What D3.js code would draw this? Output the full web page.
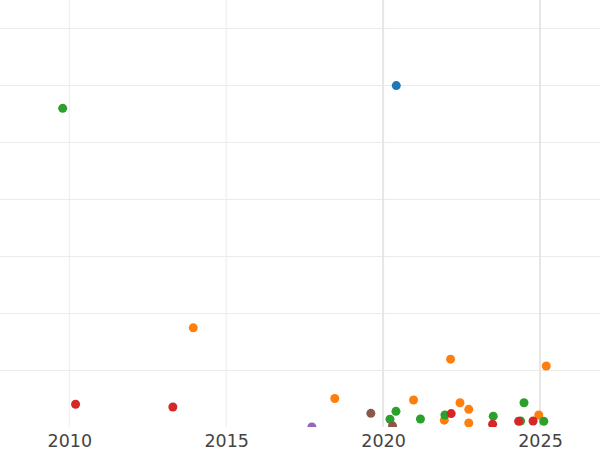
<!DOCTYPE html>
<html>
<head>
<meta charset="utf-8">
<script src="https://cdn.jsdelivr.net/npm/d3@7"></script>
<style>
  html, body { margin: 0; padding: 0; background: #fff; }
  svg { display: block; }
</style>
</head>
<body>
<svg id="chart" width="600" height="450"></svg>
<script>
// ---- data ----
const xTicks = [2010, 2015, 2020, 2025];
const yTicks = [10, 20, 30, 40, 50, 60, 70];
const seriesNames = ["blue", "orange", "green", "red", "purple", "brown"];
const seriesColors = ["#1f77b4", "#ff7f0e", "#2ca02c", "#d62728", "#9467bd", "#8c564b"];

const blueYears = [2020.42];
const blueValues = [59.9];
const orangeYears = [2013.95, 2022.15, 2025.2, 2018.46, 2020.97, 2021.95, 2022.45, 2022.73, 2022.73, 2024.96];
const orangeValues = [17.4, 11.9, 10.7, 5.0, 4.74, 1.2, 4.25, 3.1, 0.7, 2.1];
const greenYears = [2009.79, 2020.22, 2020.41, 2021.19, 2021.97, 2023.51, 2024.49, 2024.38, 2025.12];
const greenValues = [55.9, 1.35, 2.75, 1.4, 2.1, 1.9, 4.25, 1.05, 1.0];
const redYears = [2010.2, 2013.3, 2022.17, 2023.49, 2024.32, 2024.78];
const redValues = [4.0, 3.5, 2.35, 0.5, 1.0, 1.05];
const purpleYears = [2017.73];
const purpleValues = [0];
const brownYears = [2019.61, 2020.3];
const brownValues = [2.4, 0.2];

const seriesYears = [blueYears, orangeYears, greenYears, redYears, purpleYears, brownYears];
const seriesValues = [blueValues, orangeValues, greenValues, redValues, purpleValues, brownValues];

// ---- layout ----
const W = 600, plotBottom = 427;
const svg = d3.select("#chart");

const x = d3.scaleLinear().domain([2010, 2025]).range([69.3, 540]);
const y = d3.scaleLinear().domain([0, 70]).range([plotBottom, 28]);

svg.append("defs").append("clipPath").attr("id", "plotclip")
  .append("rect").attr("x", 0).attr("y", 0).attr("width", W).attr("height", plotBottom);

// horizontal gridlines
svg.append("g")
  .selectAll("line").data(yTicks).join("line")
  .attr("x1", 0).attr("x2", W)
  .attr("y1", d => Math.round(y(d)) + 0.5).attr("y2", d => Math.round(y(d)) + 0.5)
  .attr("stroke", "#ebebeb").attr("stroke-width", 1);

// vertical gridlines
svg.append("g")
  .selectAll("line").data(xTicks).join("line")
  .attr("x1", d => x(d)).attr("x2", d => x(d))
  .attr("y1", 0).attr("y2", plotBottom)
  .attr("stroke", d => d >= 2020 ? "#e6e6e6" : "#ebebeb")
  .attr("stroke-width", d => d >= 2020 ? 2 : 1);

// x axis labels
const xAxis = d3.axisBottom(x).tickValues(xTicks).tickFormat(d3.format("d")).tickSize(0).tickPadding(0);
const gx = svg.append("g").attr("transform", `translate(0,${plotBottom})`).call(xAxis);
gx.select(".domain").remove();
gx.selectAll("text")
  .attr("dy", null)
  .attr("y", 20)
  .attr("fill", "#444")
  .style("font-family", "'DejaVu Sans', sans-serif")
  .style("font-size", "17.5px");

// points
const pts = svg.append("g").attr("clip-path", "url(#plotclip)");
seriesNames.forEach((name, i) => {
  const data = seriesYears[i].map((yr, j) => ({ yr, v: seriesValues[i][j] }));
  pts.append("g").attr("class", "series-" + name)
    .selectAll("circle").data(data).join("circle")
    .attr("cx", d => x(d.yr))
    .attr("cy", d => y(d.v))
    .attr("r", 4.5)
    .attr("fill", seriesColors[i]);
});
</script>
</body>
</html>
